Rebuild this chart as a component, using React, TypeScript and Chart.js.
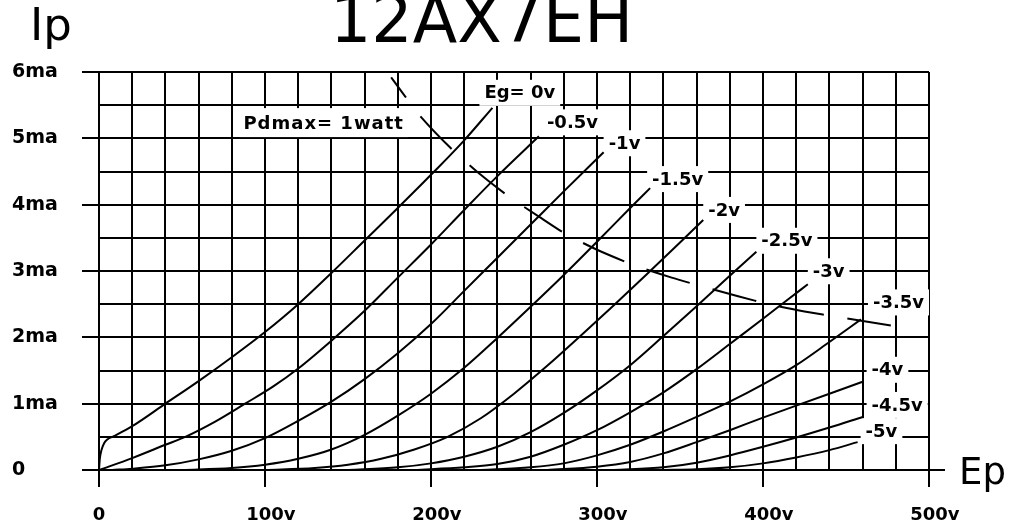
import React, { useEffect, useRef } from "react";
import { Chart, registerables } from "chart.js";

Chart.register(...registerables);

// ---------- data (Ep in volts, Ip in mA) ----------
const X_TICK_VALUES = [0, 100, 200, 300, 400, 500];
const X_TICK_LABELS = ["0", "100v", "200v", "300v", "400v", "500v"];
const Y_TICK_VALUES = [0, 1, 2, 3, 4, 5, 6];
const Y_TICK_LABELS = ["0", "1ma", "2ma", "3ma", "4ma", "5ma", "6ma"];

const EG_0V: [number, number][] = [[0, 0], [0.5, 0.17], [1.5, 0.3], [3, 0.4], [5, 0.46], [9, 0.51], [20, 0.66], [40, 1.0], [60, 1.34], [80, 1.7], [100, 2.08], [120, 2.5], [140, 2.97], [160, 3.46], [180, 3.95], [200, 4.45], [220, 4.97], [237, 5.46]];
const EG_M05V: [number, number][] = [[0, 0], [20, 0.18], [40, 0.38], [52, 0.5], [70, 0.73], [88, 1.0], [105, 1.26], [120, 1.53], [140, 1.95], [160, 2.4], [180, 2.9], [200, 3.4], [220, 3.92], [240, 4.43], [265, 5.03]];
const EG_M1V: [number, number][] = [[8, 0], [20, 0.02], [40, 0.07], [60, 0.16], [80, 0.29], [100, 0.48], [120, 0.74], [140, 1.03], [160, 1.37], [180, 1.76], [200, 2.2], [220, 2.7], [240, 3.2], [260, 3.7], [280, 4.2], [304, 4.79]];
const EG_M15V: [number, number][] = [[50, 0], [80, 0.03], [100, 0.08], [120, 0.17], [140, 0.31], [160, 0.53], [180, 0.82], [200, 1.15], [220, 1.54], [240, 1.99], [260, 2.46], [280, 2.94], [300, 3.44], [320, 3.95], [332, 4.25]];
const EG_M2V: [number, number][] = [[100, 0], [130, 0.03], [150, 0.08], [170, 0.17], [190, 0.31], [210, 0.5], [230, 0.78], [250, 1.15], [270, 1.57], [290, 2.02], [310, 2.48], [330, 2.95], [350, 3.43], [364, 3.77]];
const EG_M25V: [number, number][] = [[150, 0], [180, 0.04], [200, 0.1], [220, 0.2], [240, 0.35], [260, 0.57], [280, 0.86], [300, 1.2], [320, 1.58], [340, 2.02], [360, 2.47], [380, 2.93], [396, 3.29]];
const EG_M3V: [number, number][] = [[190, 0], [220, 0.04], [240, 0.09], [260, 0.2], [280, 0.38], [300, 0.6], [320, 0.87], [340, 1.17], [360, 1.52], [380, 1.9], [400, 2.28], [415, 2.57], [427, 2.8]];
const EG_M35V: [number, number][] = [[230, 0], [260, 0.04], [280, 0.1], [300, 0.22], [320, 0.38], [340, 0.58], [360, 0.8], [380, 1.03], [400, 1.29], [420, 1.58], [440, 1.93], [459, 2.27]];
const EG_M4V: [number, number][] = [[270, 0], [300, 0.05], [320, 0.12], [340, 0.25], [360, 0.42], [380, 0.6], [400, 0.79], [420, 0.97], [440, 1.15], [460, 1.33]];
const EG_M45V: [number, number][] = [[310, 0], [340, 0.04], [360, 0.11], [380, 0.22], [400, 0.35], [420, 0.49], [440, 0.64], [460, 0.8]];
const EG_M5V: [number, number][] = [[340, 0], [360, 0.01], [380, 0.04], [400, 0.1], [420, 0.19], [440, 0.3], [457, 0.42]];

const CURVES = [EG_0V, EG_M05V, EG_M1V, EG_M15V, EG_M2V, EG_M25V, EG_M3V, EG_M35V, EG_M4V, EG_M45V, EG_M5V];
const CURVE_LABELS = ["Eg= 0v", "-0.5v", "-1v", "-1.5v", "-2v", "-2.5v", "-3v", "-3.5v", "-4v", "-4.5v", "-5v"];

// plate dissipation limit (1 W)
const PD_EP = [176, 193, 212, 230, 247, 265, 281, 300, 323, 345, 363, 385, 405, 425, 447, 477];
const PD_IP = [5.92, 5.35, 4.85, 4.45, 4.12, 3.82, 3.56, 3.32, 3.08, 2.9, 2.77, 2.62, 2.49, 2.39, 2.3, 2.18];
const PD_LABEL = "Pdmax= 1watt";
const PD_LABEL_AT = [87, 5.23];

const TITLE = "12AX7EH";
const Y_TITLE = "Ip";
const X_TITLE = "Ep";

// ---------- styles ----------
const INK = "#000";
const FONT = '"DejaVu Sans", sans-serif';
const LABEL_FONT = `bold 18px ${FONT}`;
const LABEL_DX = [-8, 8, 5, 2, 5, 5, 5, 12, 9, 9, 8];
const LABEL_DY = [-15, -14, -9, -9, -10, -11, -13, -17, -12, -12, -11];

const decorPlugin = {
  id: "decor",
  beforeDatasetsDraw(chart: any) {
    const { ctx, scales } = chart;
    const x = scales.x;
    const y = scales.y;
    ctx.save();
    ctx.font = LABEL_FONT;
    ctx.textBaseline = "middle";
    ctx.textAlign = "left";
    CURVES.forEach((pts, i) => {
      const last = pts[pts.length - 1];
      const px = x.getPixelForValue(last[0]) + LABEL_DX[i];
      const py = y.getPixelForValue(last[1]) + LABEL_DY[i];
      const w = ctx.measureText(CURVE_LABELS[i]).width;
      ctx.fillStyle = "#fff";
      ctx.fillRect(px - 5, py - 13, w + 10, 26);
      ctx.fillStyle = INK;
      ctx.fillText(CURVE_LABELS[i], px, py + 1);
    });
    // Pdmax label
    ctx.letterSpacing = "1px";
    const lx = x.getPixelForValue(PD_LABEL_AT[0]);
    const ly = y.getPixelForValue(PD_LABEL_AT[1]);
    const lw = ctx.measureText(PD_LABEL).width;
    ctx.fillStyle = "#fff";
    ctx.fillRect(lx - 4, ly - 15, lw + 8, 29);
    ctx.fillStyle = INK;
    ctx.fillText(PD_LABEL, lx, ly + 1);
    ctx.restore();
  },
  afterDraw(chart: any) {
    const { ctx, chartArea, scales } = chart;
    const x = scales.x;
    ctx.save();
    // x axis extended toward the "Ep" label
    ctx.strokeStyle = INK;
    ctx.lineWidth = 2;
    ctx.beginPath();
    ctx.moveTo(chartArea.right, chartArea.bottom);
    ctx.lineTo(chartArea.right + 16, chartArea.bottom);
    ctx.stroke();
    // x tick labels: number part centred on the tick
    ctx.fillStyle = INK;
    ctx.font = LABEL_FONT;
    ctx.textBaseline = "alphabetic";
    ctx.textAlign = "left";
    X_TICK_VALUES.forEach((v, i) => {
      const txt = X_TICK_LABELS[i];
      const num = txt.replace(/v$/, "");
      const nw = ctx.measureText(num).width;
      ctx.fillText(txt, x.getPixelForValue(v) - nw / 2, chartArea.bottom + 50);
    });
    // axis titles and chart title
    ctx.font = `45px ${FONT}`;
    ctx.fillText(Y_TITLE, 30, 40);
    ctx.font = `37px ${FONT}`;
    ctx.fillText(X_TITLE, chartArea.right + 30, chartArea.bottom + 14);
    ctx.font = `65px ${FONT}`;
    ctx.fillText(TITLE, 330, 42);
    ctx.restore();
  },
};

export default function App() {
  const canvasRef = useRef<HTMLCanvasElement | null>(null);

  useEffect(() => {
    document.body.style.margin = "0";
    document.documentElement.style.overflow = "hidden";
    const canvas = canvasRef.current;
    if (!canvas) return;

    const curveSets = CURVES.map((pts, i) => ({
      label: CURVE_LABELS[i],
      data: pts.map(([ep, ip]) => ({ x: ep, y: ip })),
      showLine: true,
      borderColor: INK,
      borderWidth: 2,
      pointRadius: 0,
      cubicInterpolationMode: "monotone" as const,
    }));
    const pdSet = {
      label: PD_LABEL,
      data: PD_EP.map((ep, i) => ({ x: ep, y: PD_IP[i] })),
      showLine: true,
      borderColor: INK,
      borderWidth: 2,
      pointRadius: 0,
      tension: 0.2,
      borderDash: [45, 24],
      borderDashOffset: 20,
    };

    const chart = new Chart(canvas, {
      type: "scatter",
      data: { datasets: [...curveSets, pdSet] },
      plugins: [decorPlugin],
      options: {
        animation: false,
        responsive: false,
        maintainAspectRatio: false,
        devicePixelRatio: 1,
        layout: { padding: { left: 12, right: 87, top: 72, bottom: 0 } },
        plugins: {
          legend: { display: false },
          tooltip: { enabled: false },
          title: { display: false },
        },
        scales: {
          x: {
            type: "linear",
            min: 0,
            max: 500,
            grid: {
              color: INK,
              lineWidth: 2,
              drawTicks: true,
              tickLength: 17,
              tickWidth: 2,
              tickColor: (c: any) => (c.tick && c.tick.value % 100 === 0 ? INK : "rgba(0,0,0,0)"),
            },
            border: { display: true, color: INK, width: 2 },
            ticks: { display: false, stepSize: 20, autoSkip: false },
            afterFit: (s: any) => {
              s.height = 58;
            },
          },
          y: {
            type: "linear",
            min: 0,
            max: 6,
            grid: {
              color: INK,
              lineWidth: 2,
              drawTicks: true,
              tickLength: 17,
              tickWidth: 2,
              tickColor: (c: any) => (c.tick && Number.isInteger(c.tick.value) ? INK : "rgba(0,0,0,0)"),
            },
            border: { display: true, color: INK, width: 2 },
            ticks: {
              stepSize: 0.5,
              autoSkip: false,
              crossAlign: "far",
              color: INK,
              font: { family: "DejaVu Sans", size: 19, weight: "bold" },
              callback: (v: any) => {
                const idx = Y_TICK_VALUES.indexOf(Number(v));
                return idx >= 0 ? Y_TICK_LABELS[idx] : "";
              },
            },
            afterFit: (s: any) => {
              s.width = 87;
            },
          },
        },
      },
    });
    return () => chart.destroy();
  }, []);

  return (
    <div style={{ width: 1016, height: 528, background: "#fff" }}>
      <canvas ref={canvasRef} width={1016} height={528} style={{ display: "block" }} />
    </div>
  );
}
